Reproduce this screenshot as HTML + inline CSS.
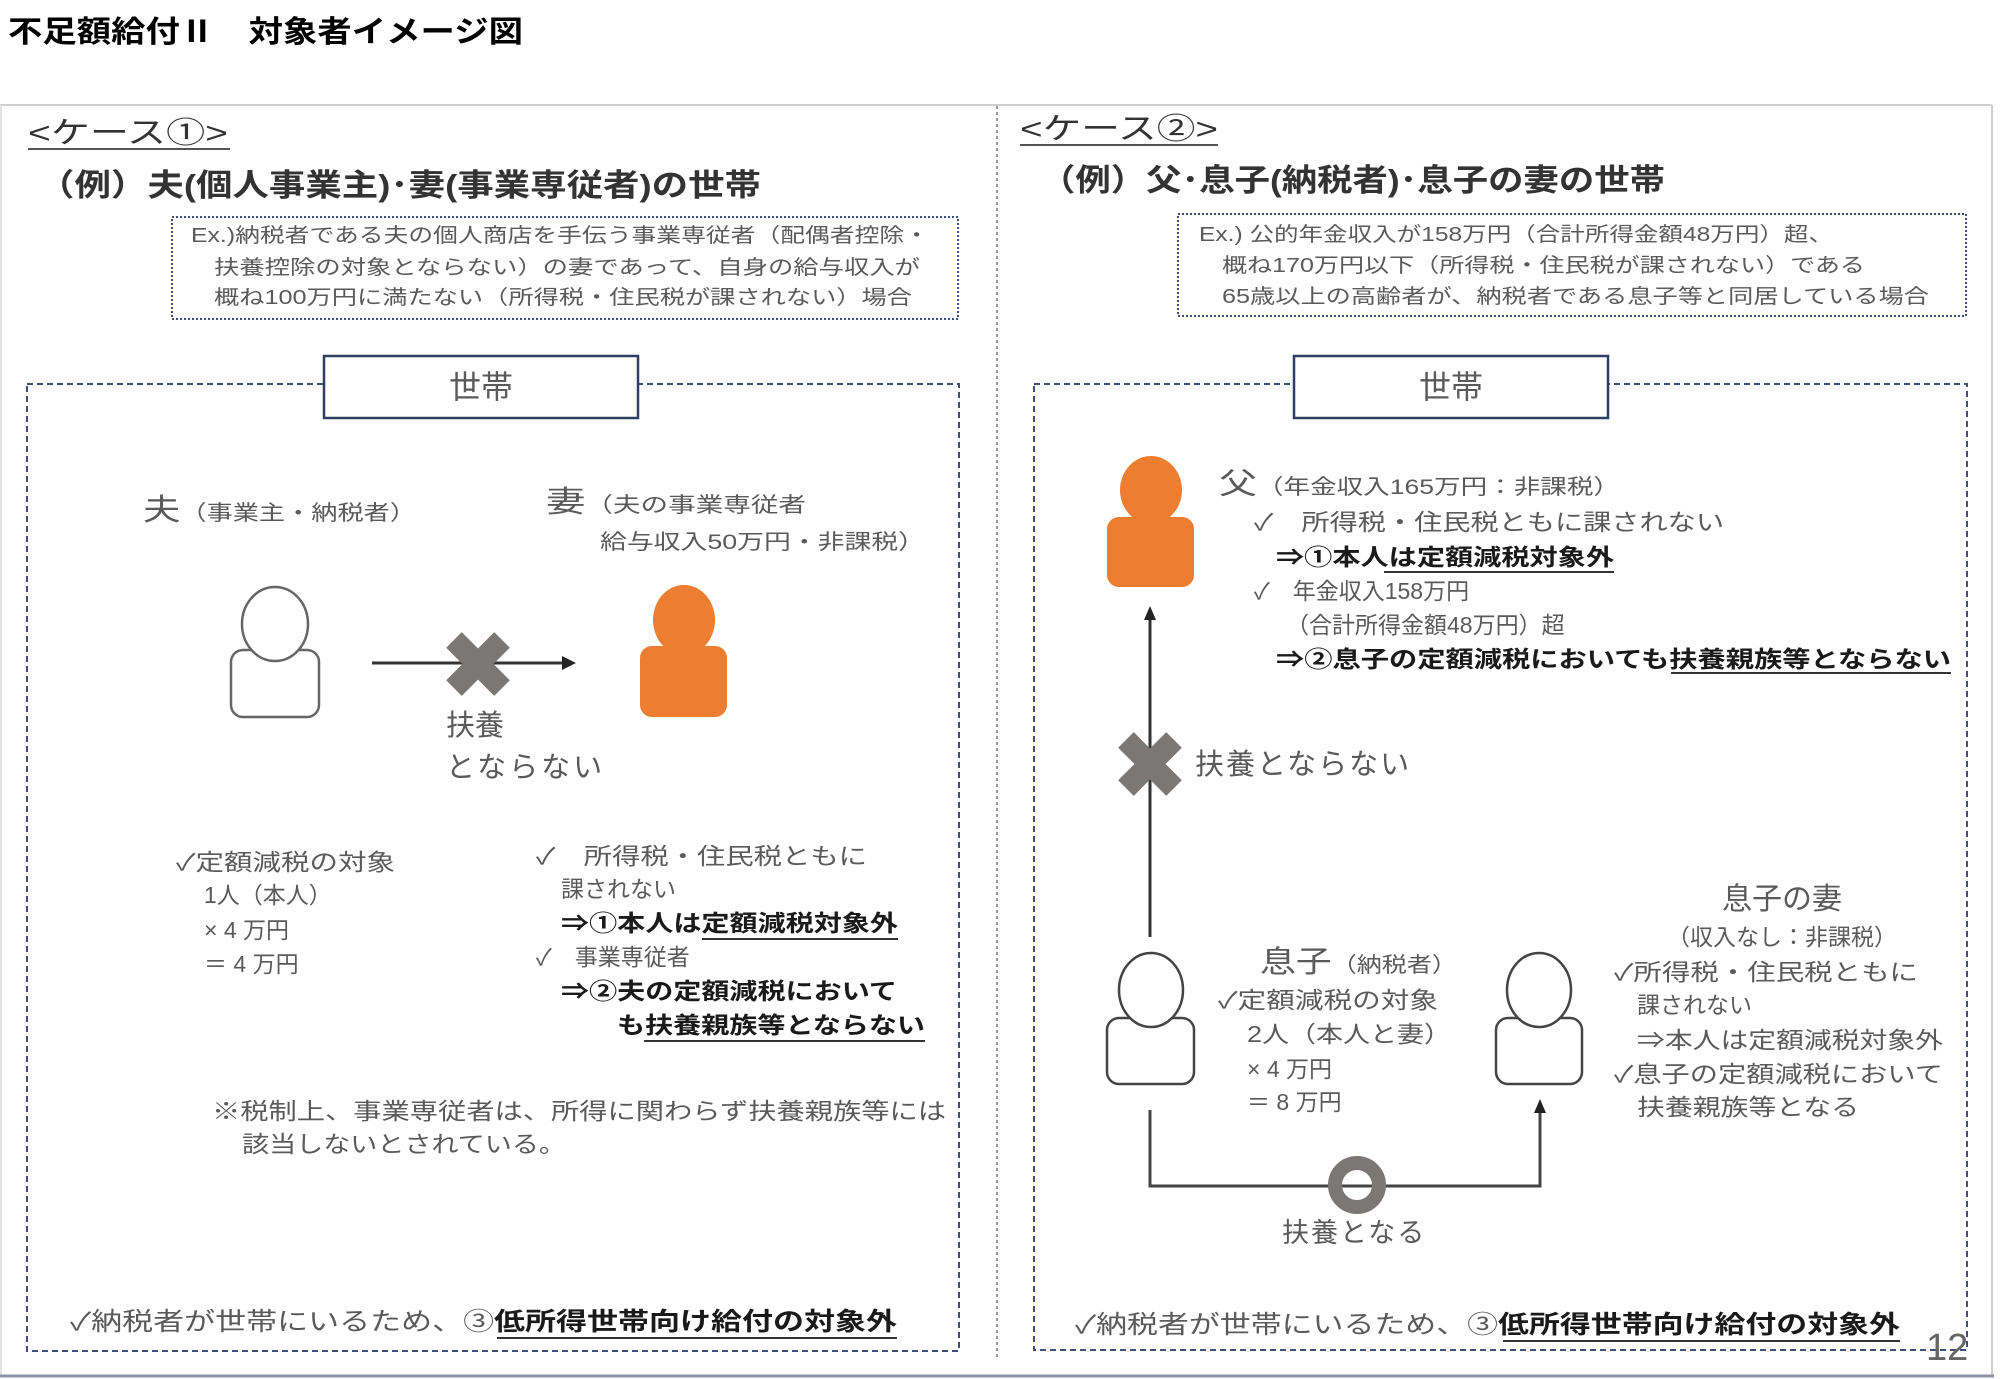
<!DOCTYPE html>
<html><head><meta charset="utf-8"><style>
html,body{margin:0;padding:0;background:#fff;}
svg{display:block;}
text{font-family:"Liberation Sans","Noto Sans CJK JP",sans-serif;}
.g{fill:#5a5a5a;}
.d{fill:#333;}
.b{fill:#1a1a1a;font-weight:bold;}
</style></head><body>
<svg width="2000" height="1379" viewBox="0 0 2000 1379" xmlns="http://www.w3.org/2000/svg">
<text x="8" y="42" font-size="30" font-weight="bold" fill="#000" textLength="515" lengthAdjust="spacingAndGlyphs">不足額給付Ⅱ　対象者イメージ図</text>
<line x1="0" y1="105" x2="1992" y2="105" stroke="#cfcfcf" stroke-width="2"/>
<line x1="1992" y1="105" x2="1992" y2="1376" stroke="#cfcfcf" stroke-width="2"/>
<line x1="1" y1="105" x2="1" y2="1376" stroke="#e2e2e2" stroke-width="2"/>
<line x1="0" y1="1376" x2="1994" y2="1376" stroke="#8a93a8" stroke-width="3"/>
<line x1="997" y1="106" x2="997" y2="1360" stroke="#9a9a9a" stroke-width="2" stroke-dasharray="3,3"/>

<!-- ===== CASE 1 ===== -->
<text x="28" y="143" font-size="30" class="d" textLength="200" lengthAdjust="spacingAndGlyphs">&lt;ケース①&gt;</text>
<line x1="28" y1="149" x2="230" y2="149" stroke="#555" stroke-width="2"/>
<text x="38" y="196" font-size="31" class="d" font-weight="bold" textLength="723" lengthAdjust="spacingAndGlyphs">（例）夫(個人事業主)･妻(事業専従者)の世帯</text>
<rect x="172" y="217" width="786" height="102" fill="none" stroke="#3d4f7a" stroke-width="2" stroke-dasharray="2,2"/>
<text x="191" y="242" font-size="20" class="g" textLength="738" lengthAdjust="spacingAndGlyphs">Ex.)納税者である夫の個人商店を手伝う事業専従者（配偶者控除・</text>
<text x="214" y="274" font-size="20" class="g" textLength="706" lengthAdjust="spacingAndGlyphs">扶養控除の対象とならない）の妻であって、自身の給与収入が</text>
<text x="214" y="304" font-size="20" class="g" textLength="698" lengthAdjust="spacingAndGlyphs">概ね100万円に満たない（所得税・住民税が課されない）場合</text>

<rect x="27" y="384" width="932" height="967" fill="none" stroke="#3d4f7a" stroke-width="2" stroke-dasharray="6,4"/>
<rect x="324" y="356" width="314" height="62" fill="#fff" stroke="#2f3f62" stroke-width="2.5"/>
<text x="481" y="398" font-size="32" class="g" text-anchor="middle">世帯</text>

<text x="143" y="520" font-size="30" class="g" textLength="273" lengthAdjust="spacingAndGlyphs">夫<tspan font-size="21">（事業主・納税者）</tspan></text>
<text x="546" y="512" font-size="30" class="g" textLength="260" lengthAdjust="spacingAndGlyphs">妻<tspan font-size="21">（夫の事業専従者</tspan></text>
<text x="600" y="549" font-size="21" class="g" textLength="325" lengthAdjust="spacingAndGlyphs">給与収入50万円・非課税）</text>

<rect x="231" y="650" width="88" height="67" rx="12" fill="#fff" stroke="#666" stroke-width="2.5"/>
<ellipse cx="275" cy="624" rx="33" ry="37" fill="#fff" stroke="#666" stroke-width="2.5"/>
<line x1="372" y1="663" x2="565" y2="663" stroke="#333" stroke-width="3"/>
<polygon points="576,663 562,656 562,670" fill="#222"/>
<g transform="translate(478,664) rotate(45)"><rect x="-34" y="-11" width="68" height="22" fill="#7a7776"/><rect x="-11" y="-34" width="22" height="68" fill="#7a7776"/></g>
<rect x="640" y="646" width="87" height="71" rx="12" fill="#ED7D31"/>
<ellipse cx="684" cy="620" rx="31" ry="35" fill="#ED7D31"/>

<text x="446" y="735" font-size="29" class="g">扶養</text>
<text x="446" y="777" font-size="29" class="g" letter-spacing="3">とならない</text>

<text x="176" y="870" font-size="23" class="g" textLength="219" lengthAdjust="spacingAndGlyphs">✓定額減税の対象</text>
<text x="204" y="903" font-size="23" class="g">1人（本人）</text>
<text x="204" y="938" font-size="23" class="g">× 4 万円</text>
<text x="204" y="972" font-size="23" class="g">＝ 4 万円</text>

<text x="536" y="864" font-size="23" class="g" textLength="331" lengthAdjust="spacingAndGlyphs">✓　所得税・住民税ともに</text>
<text x="561" y="897" font-size="23" class="g">課されない</text>
<text x="561" y="931" font-size="23" class="b" textLength="337" lengthAdjust="spacingAndGlyphs">⇒①本人は定額減税対象外</text>
<line x1="702" y1="939" x2="898" y2="939" stroke="#333" stroke-width="2"/>
<text x="536" y="965" font-size="23" class="g">✓　事業専従者</text>
<text x="561" y="999" font-size="23" class="b" textLength="336" lengthAdjust="spacingAndGlyphs">⇒②夫の定額減税において</text>
<text x="617" y="1033" font-size="23" class="b" textLength="308" lengthAdjust="spacingAndGlyphs">も扶養親族等とならない</text>
<line x1="644" y1="1041" x2="925" y2="1041" stroke="#333" stroke-width="2"/>

<text x="212" y="1119" font-size="23" class="g" textLength="734" lengthAdjust="spacingAndGlyphs">※税制上、事業専従者は、所得に関わらず扶養親族等には</text>
<text x="242" y="1152" font-size="23" class="g" textLength="324" lengthAdjust="spacingAndGlyphs">該当しないとされている。</text>

<text x="70" y="1330" font-size="25" class="g" textLength="827" lengthAdjust="spacingAndGlyphs">✓納税者が世帯にいるため、③<tspan class="b">低所得世帯向け給付の対象外</tspan></text>
<line x1="497" y1="1338" x2="897" y2="1338" stroke="#333" stroke-width="2"/>

<!-- ===== CASE 2 ===== -->
<text x="1020" y="139" font-size="30" class="d" textLength="198" lengthAdjust="spacingAndGlyphs">&lt;ケース②&gt;</text>
<line x1="1020" y1="145" x2="1218" y2="145" stroke="#555" stroke-width="2"/>
<text x="1040" y="191" font-size="31" class="d" font-weight="bold" textLength="625" lengthAdjust="spacingAndGlyphs">（例）父･息子(納税者)･息子の妻の世帯</text>
<rect x="1178" y="214" width="788" height="102" fill="none" stroke="#3d4f7a" stroke-width="2" stroke-dasharray="2,2"/>
<text x="1199" y="241" font-size="20" class="g" textLength="634" lengthAdjust="spacingAndGlyphs">Ex.) 公的年金収入が158万円（合計所得金額48万円）超、</text>
<text x="1222" y="272" font-size="20" class="g" textLength="643" lengthAdjust="spacingAndGlyphs">概ね170万円以下（所得税・住民税が課されない）である</text>
<text x="1222" y="303" font-size="20" class="g" textLength="707" lengthAdjust="spacingAndGlyphs">65歳以上の高齢者が、納税者である息子等と同居している場合</text>

<rect x="1034" y="384" width="933" height="966" fill="none" stroke="#3d4f7a" stroke-width="2" stroke-dasharray="6,4"/>
<rect x="1294" y="356" width="314" height="62" fill="#fff" stroke="#2f3f62" stroke-width="2.5"/>
<text x="1451" y="398" font-size="32" class="g" text-anchor="middle">世帯</text>

<rect x="1107" y="517" width="87" height="70" rx="12" fill="#ED7D31"/>
<ellipse cx="1151" cy="490" rx="31" ry="34" fill="#ED7D31"/>
<text x="1219" y="494" font-size="30" class="g" textLength="401" lengthAdjust="spacingAndGlyphs">父<tspan font-size="21">（年金収入165万円：非課税）</tspan></text>
<text x="1254" y="530" font-size="23" class="g" textLength="470" lengthAdjust="spacingAndGlyphs">✓　所得税・住民税ともに課されない</text>
<text x="1276" y="565" font-size="23" class="b" textLength="338" lengthAdjust="spacingAndGlyphs">⇒①本人は定額減税対象外</text>
<line x1="1384" y1="572" x2="1614" y2="572" stroke="#333" stroke-width="2"/>
<text x="1254" y="599" font-size="23" class="g">✓　年金収入158万円</text>
<text x="1286" y="633" font-size="23" class="g">（合計所得金額48万円）超</text>
<text x="1276" y="667" font-size="23" class="b" textLength="675" lengthAdjust="spacingAndGlyphs">⇒②息子の定額減税においても扶養親族等とならない</text>
<line x1="1671" y1="673" x2="1951" y2="673" stroke="#333" stroke-width="2"/>

<line x1="1150" y1="937" x2="1150" y2="618" stroke="#333" stroke-width="3"/>
<polygon points="1150,606 1144,620 1156,620" fill="#222"/>
<g transform="translate(1150,764) rotate(45)"><rect x="-34" y="-11" width="68" height="22" fill="#7a7776"/><rect x="-11" y="-34" width="22" height="68" fill="#7a7776"/></g>
<text x="1195" y="774" font-size="29" class="g" letter-spacing="2">扶養とならない</text>

<rect x="1107" y="1018" width="87" height="66" rx="12" fill="#fff" stroke="#444" stroke-width="2.5"/>
<ellipse cx="1151" cy="990" rx="32" ry="37" fill="#fff" stroke="#444" stroke-width="2.5"/>
<text x="1260" y="972" font-size="30" class="g" textLength="197" lengthAdjust="spacingAndGlyphs">息子<tspan font-size="21">（納税者）</tspan></text>
<text x="1218" y="1008" font-size="23" class="g" textLength="220" lengthAdjust="spacingAndGlyphs">✓定額減税の対象</text>
<text x="1247" y="1042" font-size="23" class="g" textLength="204" lengthAdjust="spacingAndGlyphs">2人（本人と妻）</text>
<text x="1247" y="1077" font-size="23" class="g">× 4 万円</text>
<text x="1247" y="1110" font-size="23" class="g">＝ 8 万円</text>

<rect x="1496" y="1018" width="86" height="66" rx="12" fill="#fff" stroke="#444" stroke-width="2.5"/>
<ellipse cx="1539" cy="990" rx="32" ry="37" fill="#fff" stroke="#444" stroke-width="2.5"/>
<text x="1782" y="909" font-size="30" class="g" text-anchor="middle">息子の妻</text>
<text x="1782" y="945" font-size="23" class="g" text-anchor="middle">（収入なし：非課税）</text>
<text x="1614" y="980" font-size="23" class="g" textLength="304" lengthAdjust="spacingAndGlyphs">✓所得税・住民税ともに</text>
<text x="1637" y="1013" font-size="23" class="g">課されない</text>
<text x="1637" y="1048" font-size="23" class="g" textLength="306" lengthAdjust="spacingAndGlyphs">⇒本人は定額減税対象外</text>
<text x="1614" y="1082" font-size="23" class="g" textLength="329" lengthAdjust="spacingAndGlyphs">✓息子の定額減税において</text>
<text x="1637" y="1115" font-size="23" class="g" textLength="222" lengthAdjust="spacingAndGlyphs">扶養親族等となる</text>

<polyline points="1150,1110 1150,1186 1540,1186 1540,1112" fill="none" stroke="#444" stroke-width="3"/>
<polygon points="1540,1099 1534,1113 1546,1113" fill="#222"/>
<circle cx="1357" cy="1185" r="22" fill="none" stroke="#7a7776" stroke-width="14"/>
<text x="1282" y="1242" font-size="27" class="g" letter-spacing="2">扶養となる</text>

<text x="1075" y="1333" font-size="25" class="g" textLength="825" lengthAdjust="spacingAndGlyphs">✓納税者が世帯にいるため、③<tspan class="b">低所得世帯向け給付の対象外</tspan></text>
<line x1="1503" y1="1341" x2="1900" y2="1341" stroke="#333" stroke-width="2"/>
<text x="1926" y="1360" font-size="38" fill="#666">12</text>
</svg>
</body></html>
